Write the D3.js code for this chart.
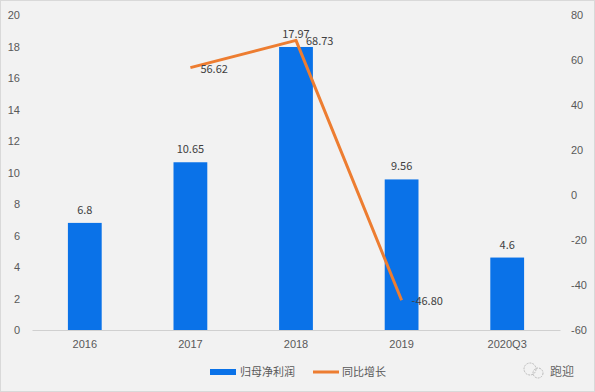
<!DOCTYPE html>
<html>
  <head>
    <meta charset="utf-8">
    <title>归母净利润与同比增长</title>
    <script src="https://d3js.org/d3.v7.min.js"></script>
    <style>
      body { margin: 0; background: #f2f2f2; }
      svg { display: block; font-family: "Noto Sans CJK SC", "Noto Sans", sans-serif; }
      .tick text { fill: #595959; font-size: 11px; }
      .lbl { fill: #404040; font-size: 11px; }
    </style>
  </head>
  <body>
    <svg id="chart" width="595" height="392"></svg>
    <script>
      // data
      const years = ["2016", "2017", "2018", "2019", "2020Q3"];
      const profit = [6.8, 10.65, 17.97, 9.56, 4.6];
      const growth = [null, 56.62, 68.73, -46.80, null];
      const growthLabels = ["", "56.62", "68.73", "-46.80", ""];
      const leftTicks = d3.range(0, 21, 2);
      const rightTicks = d3.range(-60, 81, 20);

      const svg = d3.select("#chart");
      const W = 595, H = 392;
      const plot = { left: 32, right: 560, top: 15, bottom: 330 };

      svg.append("rect")
        .attr("x", 0.5).attr("y", 0.5)
        .attr("width", W - 1).attr("height", H - 1)
        .attr("fill", "#f2f2f2").attr("stroke", "#d9d9d9");

      const x = d3.scaleBand()
        .domain(years)
        .range([plot.left, plot.right])
        .paddingInner(0.68).paddingOuter(0.34);
      const yL = d3.scaleLinear().domain([0, 20]).range([plot.bottom, plot.top]);
      const yR = d3.scaleLinear().domain([-60, 80]).range([plot.bottom, plot.top]);

      // axes
      const axL = svg.append("g")
        .attr("transform", "translate(20,0)")
        .call(d3.axisLeft(yL).tickValues(leftTicks).tickSize(0).tickPadding(0));
      axL.select(".domain").remove();

      const axR = svg.append("g")
        .attr("transform", "translate(571,0)")
        .call(d3.axisRight(yR).tickValues(rightTicks).tickFormat(d => String(d)).tickSize(0).tickPadding(0));
      axR.select(".domain").remove();

      const axX = svg.append("g")
        .attr("transform", "translate(0," + plot.bottom + ")")
        .call(d3.axisBottom(x).tickSize(0).tickPadding(10));
      axX.select(".domain").attr("stroke", "#d0d0d0");

      // bars
      svg.selectAll(".bar")
          .data(years)
        .enter().append("rect")
          .attr("class", "bar")
          .attr("x", d => x(d))
          .attr("width", x.bandwidth())
          .attr("y", (d, i) => yL(profit[i]))
          .attr("height", (d, i) => yL(0) - yL(profit[i]))
          .attr("fill", "#0a72e8");

      svg.selectAll(".barLbl")
          .data(years)
        .enter().append("text")
          .attr("class", "lbl")
          .attr("text-anchor", "middle")
          .attr("x", d => x(d) + x.bandwidth() / 2)
          .attr("y", (d, i) => yL(profit[i]) - 9)
          .text((d, i) => profit[i]);

      // line
      const pts = years.map((d, i) => [d, growth[i], growthLabels[i]]).filter(p => p[1] !== null);
      const line = d3.line()
        .x(p => x(p[0]) + x.bandwidth() / 2)
        .y(p => yR(p[1]));
      svg.append("path")
        .datum(pts)
        .attr("d", line)
        .attr("fill", "none")
        .attr("stroke", "#ed7d31")
        .attr("stroke-width", 3)
        .attr("stroke-linejoin", "round");

      svg.selectAll(".lineLbl")
          .data(pts)
        .enter().append("text")
          .attr("class", "lbl")
          .attr("x", p => x(p[0]) + x.bandwidth() / 2 + 10)
          .attr("y", p => yR(p[1]) + 5)
          .text(p => p[2]);

      // legend
      const lg = svg.append("g").attr("transform", "translate(210,372)");
      lg.append("rect").attr("x", 0).attr("y", -3).attr("width", 26).attr("height", 6).attr("fill", "#0a72e8");
      lg.append("text").attr("x", 30).attr("y", 4).attr("fill", "#595959").style("font-size", "11px").text("归母净利润");
      lg.append("line").attr("x1", 103).attr("x2", 129).attr("y1", 0).attr("y2", 0)
        .attr("stroke", "#ed7d31").attr("stroke-width", 3);
      lg.append("text").attr("x", 132).attr("y", 4).attr("fill", "#595959").style("font-size", "11px").text("同比增长");

      // watermark
      const wm = svg.append("g").attr("transform", "translate(530,372)");
      wm.append("circle").attr("cx", 0).attr("cy", -3).attr("r", 6).attr("fill", "none").attr("stroke", "#bbb").attr("stroke-dasharray", "2,1");
      wm.append("circle").attr("cx", 8).attr("cy", 1).attr("r", 5).attr("fill", "none").attr("stroke", "#bbb").attr("stroke-dasharray", "2,1");
      wm.append("text").attr("x", 20).attr("y", 4).attr("fill", "#666").style("font-size", "12px").text("跑迎");
    </script>
  </body>
</html>
